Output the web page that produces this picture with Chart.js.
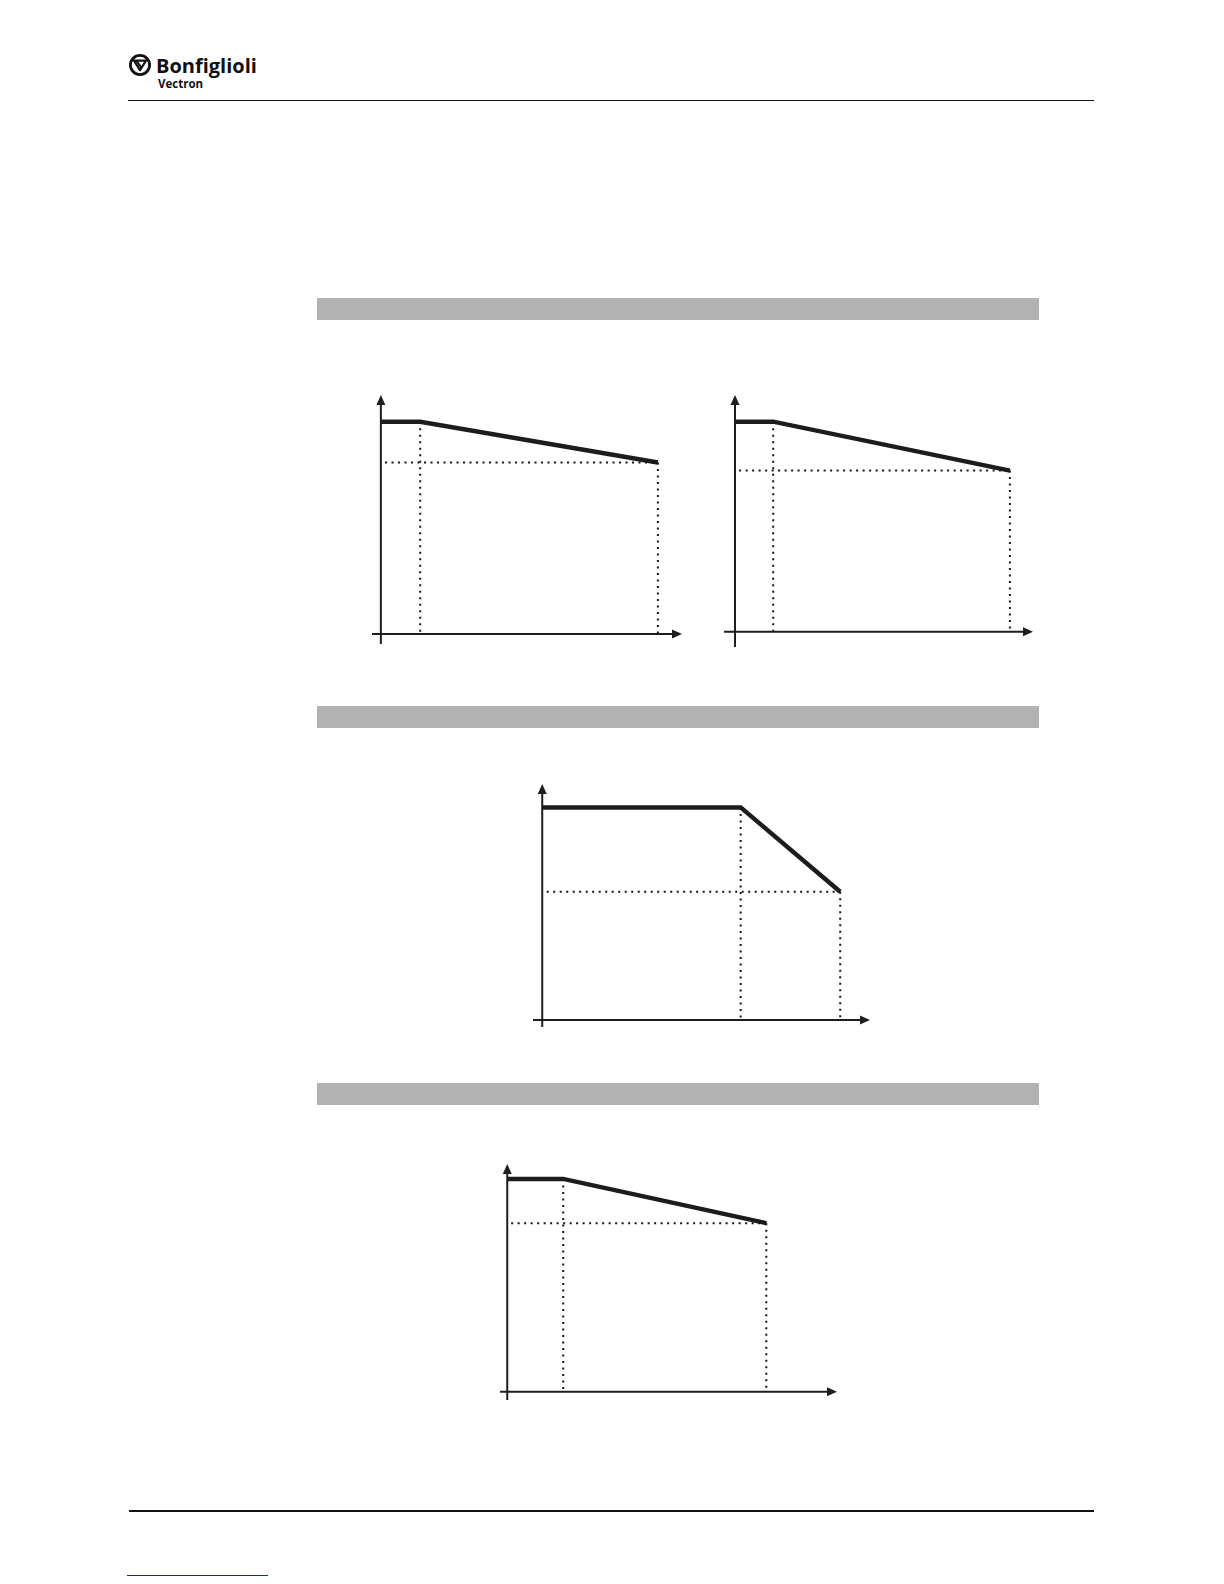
<!DOCTYPE html>
<html>
<head>
<meta charset="utf-8">
<script src="https://cdn.jsdelivr.net/npm/chart.js@4.4.1/dist/chart.umd.min.js"></script>
<style>
  html, body { margin: 0; padding: 0; background: #fff; }
  body { position: relative; width: 1224px; height: 1584px; overflow: hidden; }
  .rule { position: absolute; background: #111; }
  .band { position: absolute; left: 317px; width: 722px; height: 22px; background: #b2b2b2; }
  .logo { position: absolute; left: 128px; top: 52px; font-family: "Open Sans", "Noto Sans", sans-serif; font-weight: 700; color: #111; }
  .logo .name { position: absolute; left: 28px; top: 0px; font-size: 20px; line-height: normal; white-space: nowrap; }
  .logo .sub { position: absolute; left: 30px; top: 24px; font-size: 11.5px; line-height: normal; white-space: nowrap; }
  .plot { position: absolute; }
</style>
</head>
<body>

<div class="logo">
  <svg width="24" height="24" viewBox="0 0 24 24" style="position:absolute;left:0;top:1px">
    <circle cx="12" cy="12" r="9.6" fill="none" stroke="#111" stroke-width="2.8"/>
    <polygon points="6,7.6 18,7.6 12,17.2" fill="none" stroke="#111" stroke-width="2.2" stroke-linejoin="round"/>
    <line x1="8.6" y1="8" x2="13.4" y2="14.6" stroke="#111" stroke-width="2"/>
  </svg>
  <span class="name">Bonfiglioli</span>
  <span class="sub">Vectron</span>
</div>

<div class="rule" style="left:128px; top:100px; width:966px; height:1px;"></div>
<div class="band" style="top:298px;"></div>
<div class="band" style="top:706px;"></div>
<div class="band" style="top:1083px;"></div>
<div class="rule" style="left:129px; top:1510px; width:965px; height:2px;"></div>
<div class="rule" style="left:127px; top:1575px; width:141px; height:1px; background:#22229a;"></div>

<canvas id="plot1" class="plot"></canvas>
<canvas id="plot2" class="plot"></canvas>
<canvas id="plot3" class="plot"></canvas>
<canvas id="plot4" class="plot"></canvas>

<script>
// derating curves, values in % (x: % of the end point, y: % of rated value)
const curve1X = [0, 14.2, 100];
const curve1Y = [100, 100, 80.8];
const curve2X = [0, 13.9, 100];
const curve2Y = [100, 100, 76.7];
const curve3X = [0, 66.6, 100];
const curve3Y = [100, 100, 60.3];
const curve4X = [0, 21.6, 100];
const curve4Y = [100, 100, 79.2];

// axis ranges [min, max] (the arrows end at max)
const range1X = [-3.2, 108.7], range1Y = [-4.7, 112.6];
const range2X = [-4, 108.4],   range2Y = [-7.3, 112.7];
const range3X = [-3.1, 110],   range3Y = [-3.3, 111];
const range4X = [-2.8, 127.3], range4Y = [-3.9, 107];

const PAD = 8;

// plot area boxes on the page
const boxes = {
  plot1: { left: 372, top: 395, width: 310, height: 249 },
  plot2: { left: 724, top: 395, width: 309, height: 252 },
  plot3: { left: 533, top: 784, width: 337, height: 243 },
  plot4: { left: 500, top: 1164, width: 337, height: 236 }
};

// axes with arrow heads, drawn through the scales
const arrowAxes = {
    id: 'arrowAxes',
    beforeDatasetsDraw(chart) {
        const ctx = chart.ctx;
        const xs = chart.scales.x, ys = chart.scales.y;
        const x0 = xs.getPixelForValue(0), y0 = ys.getPixelForValue(0);
        const xEnd = xs.getPixelForValue(xs.max), yEnd = ys.getPixelForValue(ys.max);
        ctx.save();
        ctx.strokeStyle = '#1e1e1e';
        ctx.fillStyle = '#1e1e1e';
        ctx.lineWidth = 2;
        ctx.beginPath();
        ctx.moveTo(xs.getPixelForValue(xs.min), y0);
        ctx.lineTo(xEnd - 6, y0);
        ctx.moveTo(x0, ys.getPixelForValue(ys.min));
        ctx.lineTo(x0, yEnd + 6);
        ctx.stroke();
        // right arrow
        ctx.beginPath();
        ctx.moveTo(xEnd, y0);
        ctx.lineTo(xEnd - 10, y0 - 4.5);
        ctx.lineTo(xEnd - 10, y0 + 4.5);
        ctx.closePath();
        ctx.fill();
        // up arrow
        ctx.beginPath();
        ctx.moveTo(x0, yEnd);
        ctx.lineTo(x0 - 4.5, yEnd + 10);
        ctx.lineTo(x0 + 4.5, yEnd + 10);
        ctx.closePath();
        ctx.fill();
        ctx.restore();
    }
};

function dotted(points) {
    return {
        data: points,
        borderColor: '#151515',
        borderWidth: 2,
        borderDash: [2, 4.5],
        pointRadius: 0,
        fill: false,
        clip: false
    };
}

function plot(id, xs, ys, rx, ry) {
    const box = boxes[id];
    const canvas = document.getElementById(id);
    canvas.style.left = (box.left - PAD) + 'px';
    canvas.style.top = (box.top - PAD) + 'px';
    canvas.style.width = (box.width + 2 * PAD) + 'px';
    canvas.style.height = (box.height + 2 * PAD) + 'px';
    canvas.width = box.width + 2 * PAD;
    canvas.height = box.height + 2 * PAD;

    const last = xs.length - 1;
    const curve = xs.map((x, i) => ({ x: x, y: ys[i] }));

    new Chart(canvas.getContext('2d'), {
        type: 'line',
        data: {
            datasets: [
                dotted([{ x: 1.5, y: ys[last] }, { x: xs[last], y: ys[last] }]),
                dotted([{ x: xs[1], y: ys[1] }, { x: xs[1], y: 0 }]),
                dotted([{ x: xs[last], y: ys[last] }, { x: xs[last], y: 0 }]),
                {
                    data: curve,
                    borderColor: '#1c1c1c',
                    borderWidth: 4.5,
                    pointRadius: 0,
                    tension: 0,
                    fill: false,
                    clip: false
                }
            ]
        },
        options: {
            responsive: false,
            animation: false,
            layout: { padding: PAD },
            plugins: { legend: { display: false }, tooltip: { enabled: false } },
            scales: {
                x: { type: 'linear', min: rx[0], max: rx[1], display: false },
                y: { type: 'linear', min: ry[0], max: ry[1], display: false }
            }
        },
        plugins: [arrowAxes]
    });
}

plot('plot1', curve1X, curve1Y, range1X, range1Y);
plot('plot2', curve2X, curve2Y, range2X, range2Y);
plot('plot3', curve3X, curve3Y, range3X, range3Y);
plot('plot4', curve4X, curve4Y, range4X, range4Y);
</script>
</body>
</html>
